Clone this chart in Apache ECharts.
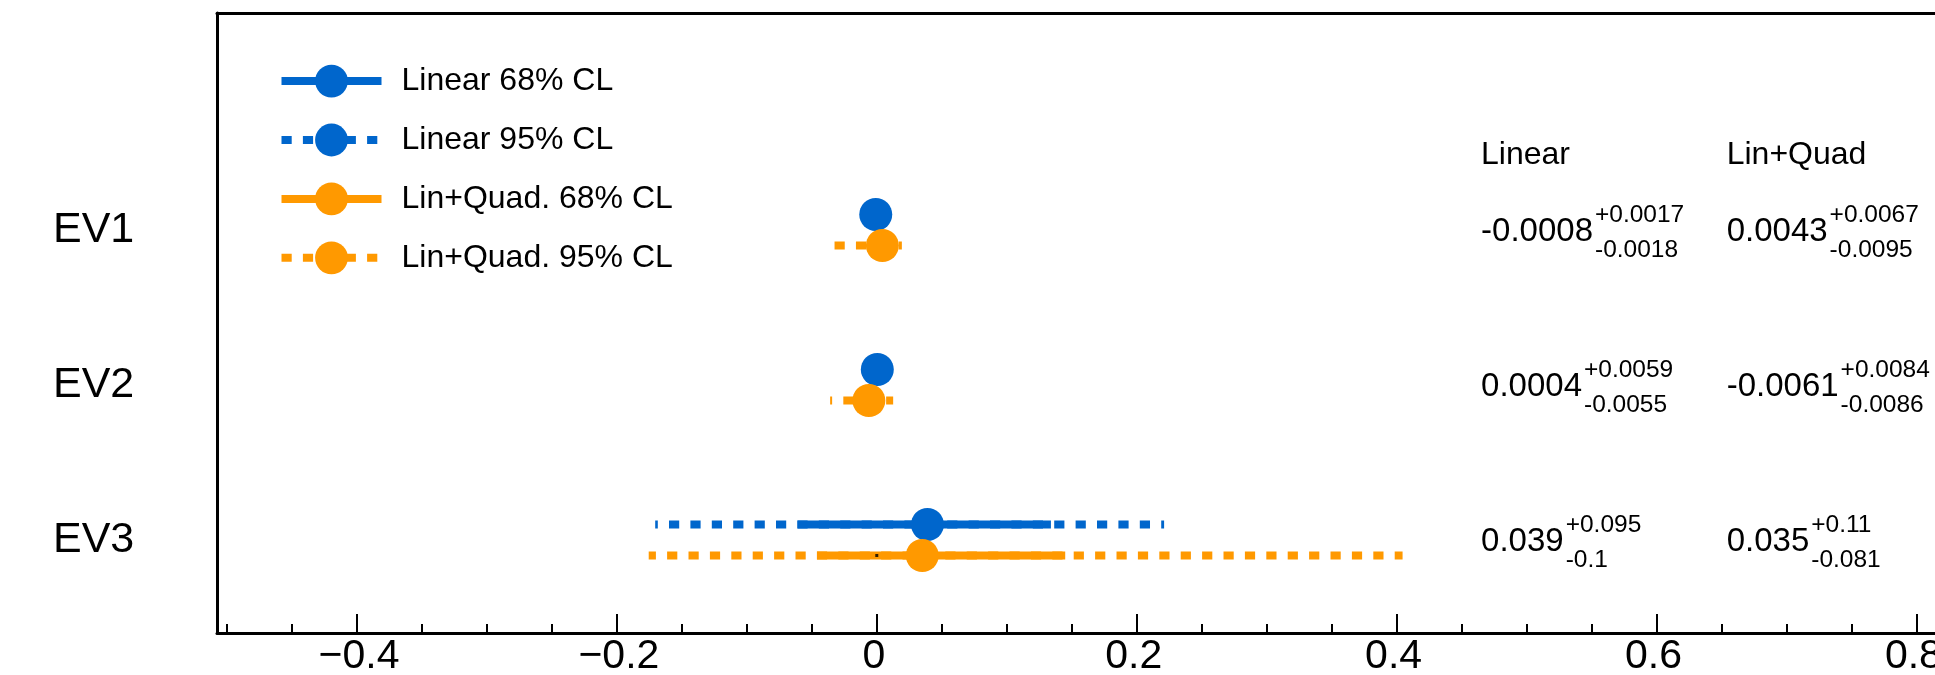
<!DOCTYPE html>
<html>
<head>
<meta charset="utf-8">
<script src="https://cdn.jsdelivr.net/npm/echarts@6/dist/echarts.min.js"></script>
<style>
  html, body { margin: 0; padding: 0; background: #ffffff; }
  #chart { width: 1935px; height: 675px; }
</style>
</head>
<body>
<div id="chart"></div>
<script>
// ---- data -------------------------------------------------------------
const categories = ['EV1', 'EV2', 'EV3'];

// best-fit values and asymmetric 68% CL errors
const linCentral  = [-0.0008, 0.0004, 0.039];
const linErrUp    = [0.0017, 0.0059, 0.095];
const linErrDown  = [0.0018, 0.0055, 0.1];
const quadCentral = [0.0043, -0.0061, 0.035];
const quadErrUp   = [0.0067, 0.0084, 0.11];
const quadErrDown = [0.0095, 0.0086, 0.081];

// 95% CL intervals
const lin95Low   = [-0.0044, -0.0113, -0.1705];
const lin95High  = [0.0027, 0.0120, 0.2211];
const quad95Low  = [-0.0325, -0.0359, -0.1755];
const quad95High = [0.0193, 0.0126, 0.4046];

// reference (SM) point
const smValue = [0];

const tableHeaders = ['Linear', 'Lin+Quad'];
const xMajorTicks = [-0.4, -0.2, 0, 0.2, 0.4, 0.6, 0.8];
const xMinorTicks = [-0.5, -0.45, -0.4, -0.35, -0.3, -0.25, -0.2, -0.15, -0.1, -0.05, 0,
                     0.05, 0.1, 0.15, 0.2, 0.25, 0.3, 0.35, 0.4, 0.45, 0.5, 0.55, 0.6,
                     0.65, 0.7, 0.75, 0.8];

// ---- layout & style ---------------------------------------------------
const FONT = '"Liberation Sans", Arial, Helvetica, sans-serif';
const BLUE = '#0066CC';
const ORANGE = '#FF9900';
const X_MIN = -0.5077, X_MAX = 0.8143;
const ROW_TOP = 2.6;           // y position of the first row
const PAIR_SHIFT = 0.1;        // vertical split between the two fits
const TABLE_COL_X = [0.465, 0.654];
const HEADER_Y = 3.085;
const DASH = [10.2, 11.2];
const LIN_DASH_PHASE = [0, 0, 7.6];
const QUAD_DASH_PHASE = [0, 8.2, 3];

const rowPos = i => ROW_TOP - i;

function segments(lo, hi, dy) {
  const d = [];
  lo.forEach((l, i) => {
    const y = rowPos(i) + dy;
    d.push([l, y], [hi[i], y], ['-', '-']);
  });
  return d;
}
const lo68 = (c, e) => c.map((v, i) => v - e[i]);
const hi68 = (c, e) => c.map((v, i) => v + e[i]);

const lineBase = {
  type: 'line', symbol: 'none', silent: true, connectNulls: false,
  animation: false, clip: false
};

// one dashed series per row so each interval keeps its own dash phase
function dashedSeries(name, lo, hi, dy, color, phases) {
  return lo.map((l, i) => Object.assign({}, lineBase, {
    name,
    data: [[l, rowPos(i) + dy], [hi[i], rowPos(i) + dy]],
    lineStyle: { color, width: 8, type: DASH, dashOffset: phases[i], cap: 'butt' },
    itemStyle: { color }
  }));
}

// text measurement for the superscript / subscript placement
const measureCtx = document.createElement('canvas').getContext('2d');
function textWidth(str, size) {
  measureCtx.font = size + 'px ' + FONT;
  return measureCtx.measureText(str).width;
}
const fmtUp = v => '+' + v;
const fmtDown = v => '-' + v;

const tableEntries = [];
categories.forEach((c, i) => {
  tableEntries.push({ col: 0, row: i, main: String(linCentral[i]), sup: fmtUp(linErrUp[i]), sub: fmtDown(linErrDown[i]) });
  tableEntries.push({ col: 1, row: i, main: String(quadCentral[i]), sup: fmtUp(quadErrUp[i]), sub: fmtDown(quadErrDown[i]) });
});

const chart = echarts.init(document.getElementById('chart'), null, { renderer: 'canvas' });

chart.setOption({
  animation: false,
  backgroundColor: '#ffffff',
  grid: { left: 217, top: 13, right: 0, bottom: 42, containLabel: false, outerBoundsMode: 'none' },
  legend: {
    data: ['Linear 68% CL', 'Linear 95% CL', 'Lin+Quad. 68% CL', 'Lin+Quad. 95% CL'],
    orient: 'vertical', left: 277.5, top: 64.7, padding: 0,
    itemWidth: 100, itemHeight: 41, itemGap: 26.1,
    selectedMode: false,
    lineStyle: { width: 8, dashOffset: 0 },
    textStyle: { fontSize: 32, color: '#000', fontFamily: FONT, padding: [0, 0, 0, 15] }
  },
  xAxis: [
    {
      type: 'value', position: 'bottom', min: X_MIN, max: X_MAX,
      axisLine: { show: true, onZero: false, lineStyle: { color: '#000', width: 3 } },
      axisTick: { show: true, inside: true, length: 19, customValues: xMajorTicks, lineStyle: { color: '#000', width: 2 } },
      axisLabel: {
        show: true, customValues: xMajorTicks, margin: 3, fontSize: 41, color: '#000', fontFamily: FONT,
        hideOverlap: false,
        formatter: v => (v < 0 ? '{n|\u2212' + Math.abs(v) + '}' : '{p|' + v + '}'),
        rich: {
          n: { fontSize: 41, fontFamily: FONT, color: '#000', padding: [0, 0, 0, 4] },
          p: { fontSize: 41, fontFamily: FONT, color: '#000', padding: [0, 6, 0, 0] }
        }
      },
      splitLine: { show: false }
    },
    {
      type: 'value', position: 'bottom', min: X_MIN, max: X_MAX,
      axisLine: { show: false, onZero: false },
      axisTick: { show: true, inside: true, length: 9, customValues: xMinorTicks, lineStyle: { color: '#000', width: 2 } },
      axisLabel: { show: false },
      splitLine: { show: false }
    },
    {
      type: 'value', position: 'top', min: X_MIN, max: X_MAX,
      axisLine: { show: true, onZero: false, lineStyle: { color: '#000', width: 3 } },
      axisTick: { show: false }, axisLabel: { show: false }, splitLine: { show: false }
    }
  ],
  yAxis: {
    type: 'value', min: 0, max: 4,
    axisLine: { show: true, onZero: false, lineStyle: { color: '#000', width: 3 } },
    axisTick: { show: false },
    splitLine: { show: false },
    axisLabel: {
      show: true, customValues: categories.map((c, i) => rowPos(i)),
      formatter: v => categories[Math.round(ROW_TOP - v)],
      align: 'left', margin: 164, fontSize: 43, color: '#000', fontFamily: FONT
    }
  },
  series: [].concat(
    dashedSeries('Linear 95% CL', lin95Low, lin95High, PAIR_SHIFT, BLUE, LIN_DASH_PHASE),
    dashedSeries('Lin+Quad. 95% CL', quad95Low, quad95High, -PAIR_SHIFT, ORANGE, QUAD_DASH_PHASE),
    [
      Object.assign({}, lineBase, {
        name: 'Linear 68% CL', data: segments(lo68(linCentral, linErrDown), hi68(linCentral, linErrUp), PAIR_SHIFT),
        lineStyle: { color: BLUE, width: 8, type: 'solid', cap: 'butt' }, itemStyle: { color: BLUE }
      }),
      Object.assign({}, lineBase, {
        name: 'Lin+Quad. 68% CL', data: segments(lo68(quadCentral, quadErrDown), hi68(quadCentral, quadErrUp), -PAIR_SHIFT),
        lineStyle: { color: ORANGE, width: 8, type: 'solid', cap: 'butt' }, itemStyle: { color: ORANGE }
      }),
      {
        name: 'Linear', type: 'scatter', symbol: 'circle', symbolSize: 33, silent: true, z: 3,
        itemStyle: { color: BLUE, opacity: 1 },
        data: linCentral.map((v, i) => [v, rowPos(i) + PAIR_SHIFT])
      },
      {
        name: 'Lin+Quad.', type: 'scatter', symbol: 'circle', symbolSize: 33, silent: true, z: 4,
        itemStyle: { color: ORANGE, opacity: 1 },
        data: quadCentral.map((v, i) => [v, rowPos(i) - PAIR_SHIFT])
      },
      {
        name: 'SM', type: 'scatter', symbol: 'rect', symbolSize: 3, silent: true, z: 5,
        itemStyle: { color: '#000' },
        data: smValue.map(v => [v, rowPos(2) - PAIR_SHIFT])
      },
      {
        // column headers of the fit-result table
        type: 'custom', silent: true, z: 6, clip: false,
        data: tableHeaders.map((h, c) => [TABLE_COL_X[c], HEADER_Y]),
        renderItem: (params, api) => {
          const p = api.coord([api.value(0), api.value(1)]);
          return {
            type: 'text', x: p[0], y: p[1],
            style: { text: tableHeaders[params.dataIndex], fontSize: 32, fontFamily: FONT, fill: '#000', align: 'left', verticalAlign: 'middle' }
          };
        }
      },
      {
        // central values with asymmetric errors
        type: 'custom', silent: true, z: 6, clip: false,
        data: tableEntries.map(e => [TABLE_COL_X[e.col], rowPos(e.row)]),
        renderItem: (params, api) => {
          const e = tableEntries[params.dataIndex];
          const p = api.coord([api.value(0), api.value(1)]);
          const w = textWidth(e.main, 33) + 2;
          const st = (text, size) => ({ text, fontSize: size, fontFamily: FONT, fill: '#000', align: 'left', verticalAlign: 'middle' });
          return {
            type: 'group',
            children: [
              { type: 'text', x: p[0], y: p[1] + 2, style: st(e.main, 33) },
              { type: 'text', x: p[0] + w, y: p[1] - 15, style: st(e.sup, 24.5) },
              { type: 'text', x: p[0] + w, y: p[1] + 20, style: st(e.sub, 24.5) }
            ]
          };
        }
      }
    ]
  )
});
</script>
</body>
</html>
